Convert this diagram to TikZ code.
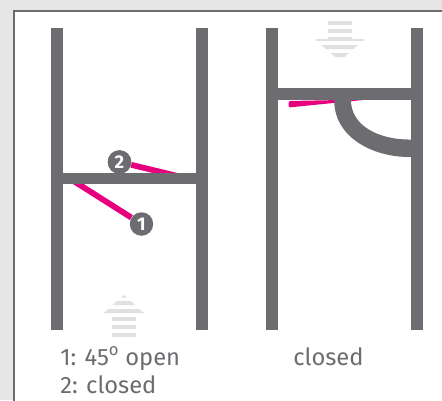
\documentclass[tikz,border=0pt]{standalone}
\usepackage{fontspec}
\setmainfont{Fira Sans}
\usetikzlibrary{calc}
\definecolor{framegrey}{HTML}{E6E6E6}
\definecolor{wallgrey}{HTML}{6D6C71}
\definecolor{valvepink}{HTML}{E6007E}
\definecolor{flowgrey}{HTML}{E0E0E0}
\tikzset{
    badge/.style={circle, fill=wallgrey, text=white, inner sep=0pt, minimum size=23.5*0.2mm, font=\bfseries\fontsize{10.5}{10.5}\selectfont},
    caption/.style={text=wallgrey, anchor=base west, inner sep=0pt, font=\fontsize{13.5}{13.5}\selectfont},
    flap/.style={valvepink, line width=5.8*0.2mm}
}

\begin{document}
\begin{tikzpicture}[x=0.2mm, y=-0.2mm]

    % Background and frame
    \useasboundingbox (0,0) rectangle (442,400);
    \fill[framegrey] (0,0) rectangle (442,400);
    \fill[white, draw=wallgrey, line width=0.4mm] (13.5,10.5) rectangle (445,405);

    % Left duct
    \fill[wallgrey] (50.5,28) rectangle (62.5,330);
    \fill[wallgrey] (195.5,28) rectangle (207.5,330);

    % Right duct
    \fill[wallgrey] (265.5,28) rectangle (277.5,330);
    \fill[wallgrey] (410.5,28) rectangle (422.5,330);

    % Flaps of the left duct
    \coordinate (hingetwo) at (190,179);
    \coordinate (hingeone) at (72,180);
    \node[badge] (two) at (119.5,162) {2};
    \node[badge] (one) at (141.5,224) {1};
    \draw[flap] (two) -- (hingetwo);
    \draw[flap] (hingeone) -- (one);
    \fill[wallgrey] (62,172.5) rectangle (196,184);
    \node[badge] at (two) {2};

    % Closed flap and seat of the right duct
    \fill[valvepink, rounded corners=1.2pt] (288.5,101) -- (368,99.5) -- (288.5,107.5) -- cycle;
    \fill[wallgrey] (334.3,99) .. controls (333,135) and (370,157.5) .. (411,157)
        -- (411,139.5) .. controls (378,140) and (350,125) .. (351,99) -- cycle;
    \fill[wallgrey] (277,88) rectangle (411,100);

    % Flow arrow, upwards
    \fill[flowgrey] (111.7,317) rectangle (136,321);
    \fill[flowgrey] (111.7,325) rectangle (136,329);
    \fill[flowgrey] (111.7,333) rectangle (136,337);
    \fill[flowgrey] (123.8,295) -- (126.8,297.5) -- (120.8,297.5) -- cycle;
    \fill[flowgrey] (117,301) -- (130.6,301) -- (135,305) -- (112.6,305) -- cycle;
    \fill[flowgrey] (108.5,309) -- (139,309) -- (144,313) -- (103.5,313) -- cycle;

    % Flow arrow, downwards
    \fill[flowgrey] (327.7,21) rectangle (352,25);
    \fill[flowgrey] (327.7,29) rectangle (352,33);
    \fill[flowgrey] (328,37) rectangle (352,39);
    \fill[flowgrey] (316,39) rectangle (364,40.5);
    \fill[flowgrey] (321.5,45) -- (358,45) -- (353.5,49) -- (326,49) -- cycle;
    \fill[flowgrey] (330.5,53) -- (349,53) -- (344.5,57) -- (335,57) -- cycle;

    % Captions
    \node[caption] (openlabel) at (60,365) {1: 45\textsuperscript{o}\hspace{-0.02em} open};
    \node[caption] (closedlabel) at (60,393.5) {2: closed};
    \node[caption] (ductlabel) at (293,365) {closed};

\end{tikzpicture}
\end{document}
